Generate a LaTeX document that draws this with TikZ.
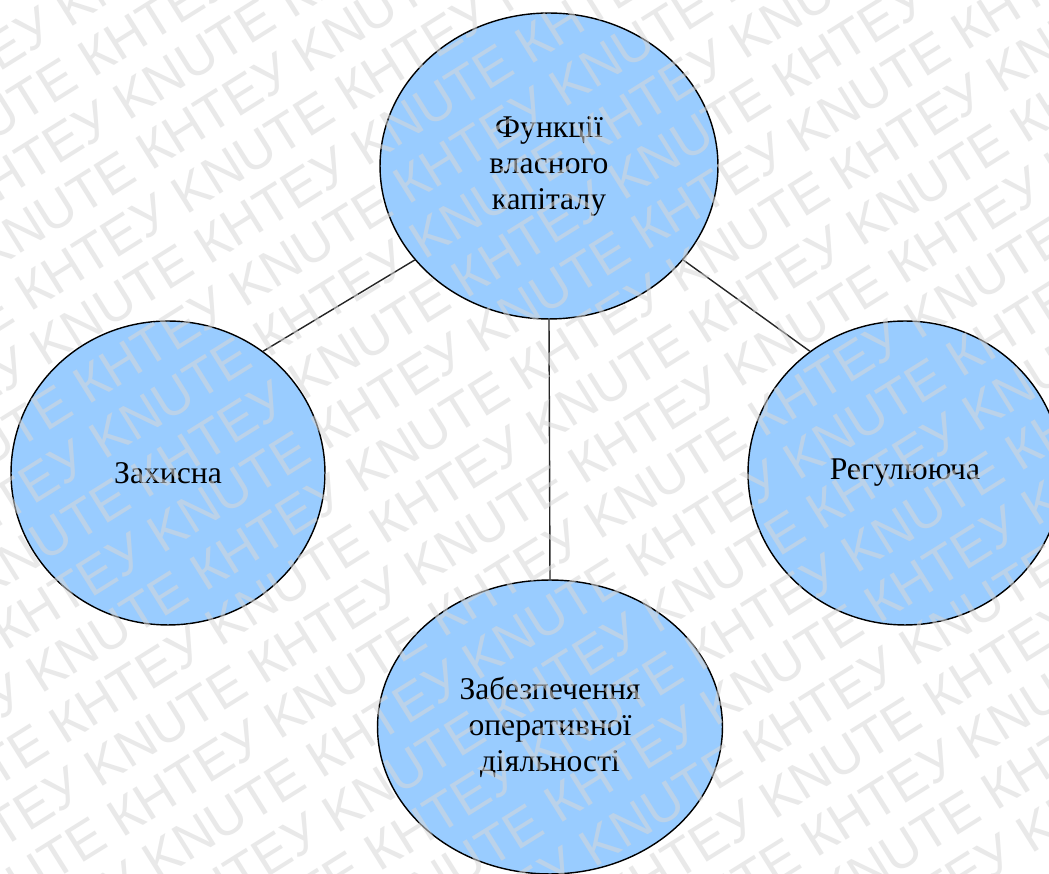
\documentclass[tikz,border=0pt]{standalone}
\usepackage{fontspec}
\setmainfont{Liberation Serif}
\newfontfamily\wmfont{Liberation Sans}
\usetikzlibrary{shapes.geometric}
\definecolor{blueFill}{RGB}{153,204,255}
\definecolor{wmgray}{RGB}{215,215,215}
\begin{document}
\begin{tikzpicture}[x=0.02cm,y=-0.02cm,
  circ/.style={ellipse, draw=black, line width=0.8pt, fill=blueFill, align=center,
    font=\fontsize{18}{20.5}\selectfont, inner sep=0pt},
  link/.style={draw=black!85, line width=0.8pt},
  wm/.style={font=\wmfont\fontsize{30}{30}\selectfont, text=wmgray, opacity=0.55,
    anchor=west, inner sep=0pt, transform shape}]
\useasboundingbox (0,0) rectangle (1049,874);
\fill[white] (0,0) rectangle (1049,874);
% nodes
\node[circ, minimum width=6.76cm, minimum height=6.12cm] (func) at (549,166) {Функції\\власного\\капіталу};
\node[circ, minimum width=6.28cm, minimum height=6.08cm] (zakh) at (168,473) {Захисна};
\node[circ, minimum width=6.28cm, minimum height=6.08cm] (reg) at (905,473) {Регулююча};
\node[circ, minimum width=6.9cm, minimum height=5.88cm] (zab) at (550,727) {Забезпечення\\оперативної\\діяльності};
% connectors
\draw[link] (func.215) -- (zakh.52);
\draw[link] (func.325) -- (reg.128);
\draw[link] (func.south) -- (zab.north);
% watermark
\begin{scope}
\clip (0,0) rectangle (1049,874);
\begin{scope}[rotate around={32:(524,437)}]
\foreach \i in {-11,...,11} {
  \node[wm] (wm\i) at ({-600 + mod(\i+22,2)*200}, {437 + \i*55})
    {KNUTE КНТЕУ KNUTE КНТЕУ KNUTE КНТЕУ KNUTE КНТЕУ KNUTE КНТЕУ};
}
\end{scope}
\end{scope}
\end{tikzpicture}
\end{document}
